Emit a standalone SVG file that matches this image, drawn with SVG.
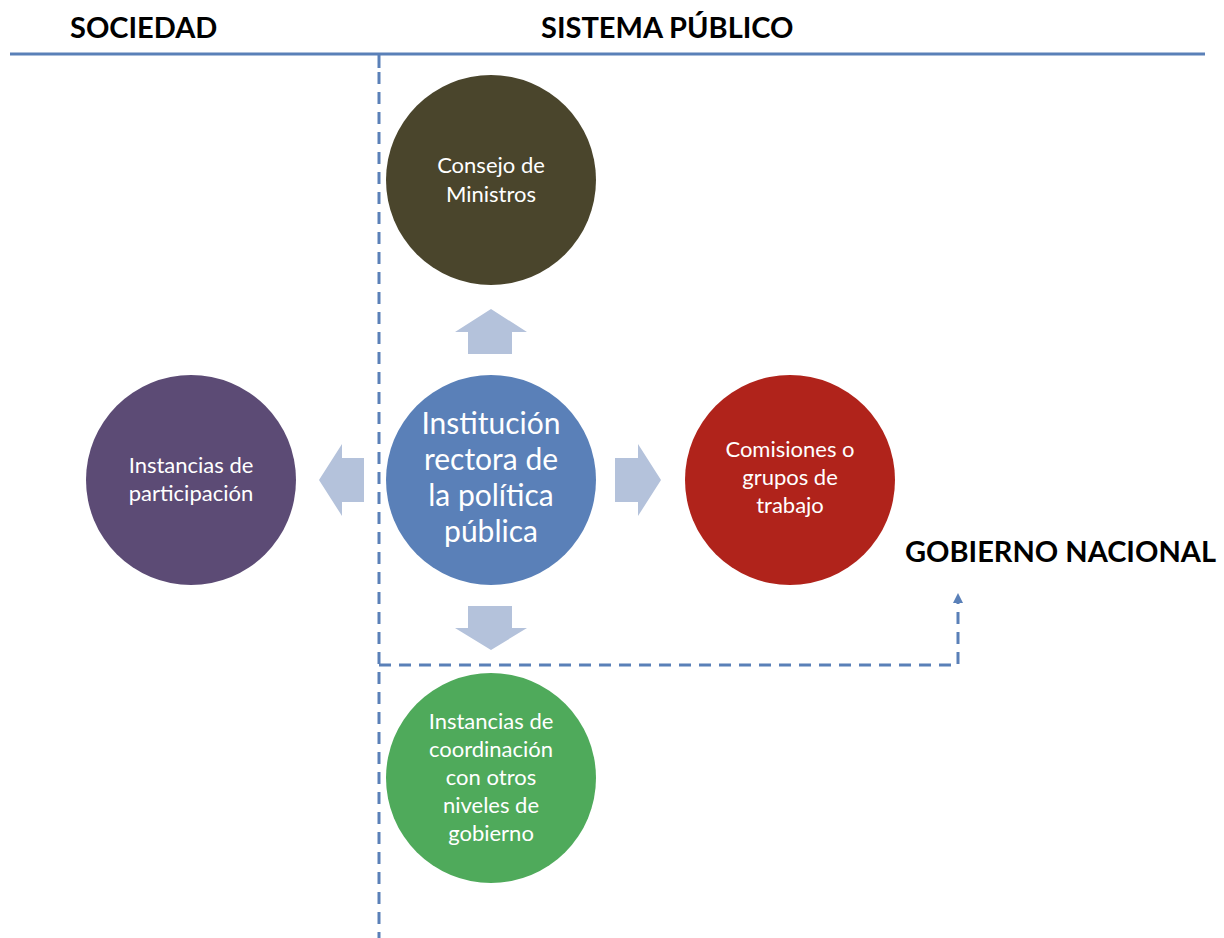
<svg xmlns="http://www.w3.org/2000/svg" width="1224" height="938" viewBox="0 0 1224 938">
<defs>
<style>
.hdr{font-family:Lato,"Open Sans","Liberation Sans",sans-serif;font-weight:bold;font-size:29px;fill:#000}
.lbl{font-family:Lato,"Open Sans","Liberation Sans",sans-serif;font-size:22px;fill:#fff;text-anchor:middle}
.big{font-family:Lato,"Open Sans","Liberation Sans",sans-serif;font-size:30px;fill:#fff;text-anchor:middle}
.dash{fill:none;stroke:#5a80b8;stroke-width:3;stroke-dasharray:12 8}
.arr{fill:#b4c2db}
</style>
<marker id="ah" markerWidth="10" markerHeight="10" refX="3" refY="3" orient="auto" markerUnits="userSpaceOnUse" viewBox="0 0 6 6"><path d="M0,0 L6,3 L0,6 z" fill="#5a80b8"/></marker>
</defs>
<rect width="1224" height="938" fill="#fff"/>
<g id="headers">
<text class="hdr" x="70" y="38">SOCIEDAD</text>
<text class="hdr" x="541" y="38">SISTEMA PÚBLICO</text>
<text class="hdr" x="905" y="562">GOBIERNO NACIONAL</text>
</g>
<g id="connectors">
<line x1="10" y1="54" x2="1205" y2="54" stroke="#5a80b8" stroke-width="3"/>
<line x1="379" y1="54" x2="379" y2="68" stroke="#5a80b8" stroke-width="3"/>
<line class="dash" x1="379" y1="72" x2="379" y2="938"/>
<polyline class="dash" points="379,665 958,665 958,598" marker-end="url(#ah)"/>
<polygon class="arr" points="491,309 527,332 512,332 512,354 468,354 468,332 455,332"/>
<polygon class="arr" points="491,650 527,628 512,628 512,606 468,606 468,628 455,628"/>
<polygon class="arr" points="319,480 342,444 342,458 364,458 364,502 342,502 342,516"/>
<polygon class="arr" points="661,480 638,444 638,458 615,458 615,502 638,502 638,516"/>
</g>
<g id="consejo">
<circle cx="491" cy="180" r="105" fill="#4a452c"/>
<text class="lbl" x="491" y="173">Consejo de</text>
<text class="lbl" x="491" y="202">Ministros</text>
</g>
<g id="institucion">
<circle cx="491" cy="480" r="105" fill="#5a80b8"/>
<text class="big" x="491" y="434">Institución</text>
<text class="big" x="491" y="470">rectora de</text>
<text class="big" x="491" y="506">la política</text>
<text class="big" x="491" y="542">pública</text>
</g>
<g id="participacion">
<circle cx="191" cy="480" r="105" fill="#5c4b75"/>
<text class="lbl" x="191" y="473">Instancias de</text>
<text class="lbl" x="191" y="501">participación</text>
</g>
<g id="comisiones">
<circle cx="790" cy="480" r="105" fill="#b0231b"/>
<text class="lbl" x="790" y="457">Comisiones o</text>
<text class="lbl" x="790" y="485">grupos de</text>
<text class="lbl" x="790" y="513">trabajo</text>
</g>
<g id="coordinacion">
<circle cx="491" cy="778" r="105" fill="#4faa5b"/>
<text class="lbl" x="491" y="729">Instancias de</text>
<text class="lbl" x="491" y="757">coordinación</text>
<text class="lbl" x="491" y="785">con otros</text>
<text class="lbl" x="491" y="813">niveles de</text>
<text class="lbl" x="491" y="841">gobierno</text>
</g>
</svg>
